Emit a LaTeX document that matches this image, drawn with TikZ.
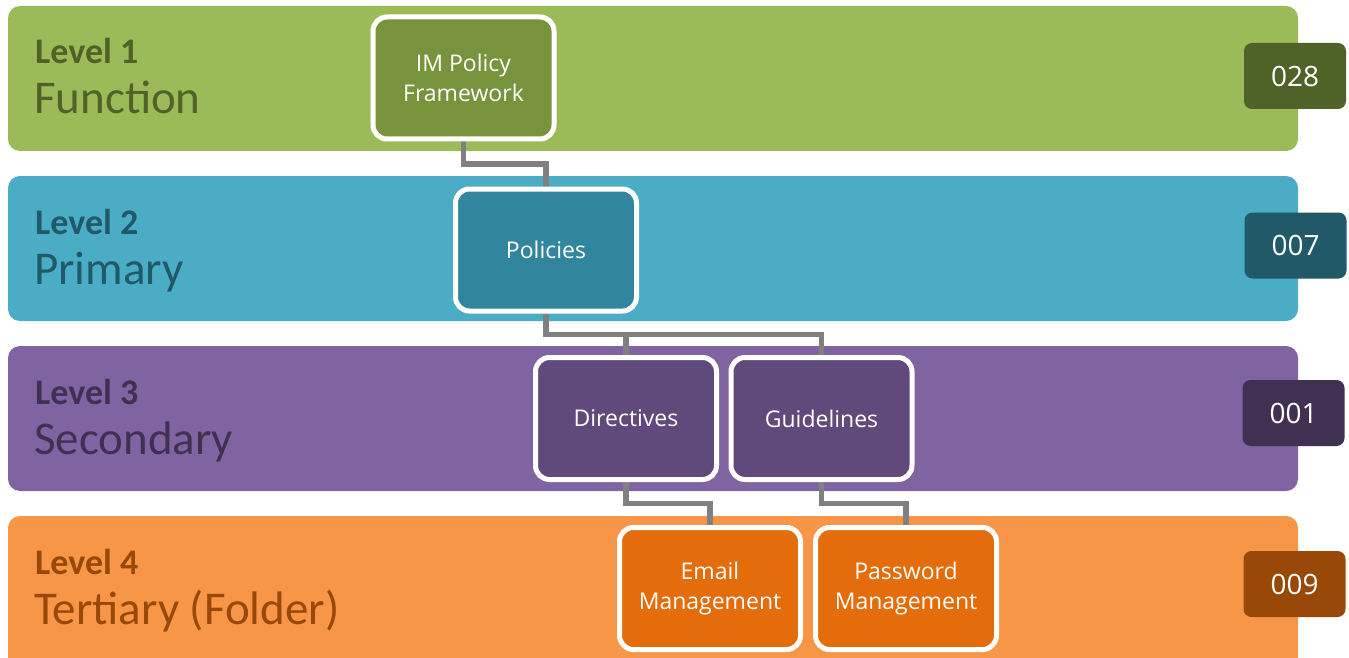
\documentclass[tikz,border=0pt]{standalone}
\usepackage{fontspec}
\setmainfont{Carlito}
\newfontfamily\boxfont{Open Sans}
\usetikzlibrary{calc}

% level colours: band, inner box, dark accent
\definecolor{gBand}{HTML}{9BBB59}\definecolor{gBox}{HTML}{77933C}\definecolor{gDark}{HTML}{4F6228}
\definecolor{bBand}{HTML}{4BACC6}\definecolor{bBox}{HTML}{31859C}\definecolor{bDark}{HTML}{215968}
\definecolor{pBand}{HTML}{8064A2}\definecolor{pBox}{HTML}{604A7B}\definecolor{pDark}{HTML}{403152}
\definecolor{oBand}{HTML}{F79646}\definecolor{oBox}{HTML}{E46C0A}\definecolor{oDark}{HTML}{984807}
\definecolor{linkGray}{HTML}{808080}

\pgfdeclarelayer{bands}
\pgfdeclarelayer{links}
\pgfsetlayers{bands,links,main}

\tikzset{
  band/.style={rounded corners=12pt},
  itembox/.style={draw=white, line width=5pt, rounded corners=14pt,
    minimum width=181pt, minimum height=122pt, inner sep=0pt,
    align=center, text=white, font=\boxfont\fontsize{23}{30}\selectfont},
  codebox/.style={rounded corners=8pt, minimum width=102pt, minimum height=66pt,
    inner sep=0pt, text=white, font=\boxfont\fontsize{28}{30}\selectfont},
  levelname/.style={anchor=base west, inner sep=0pt, font=\bfseries\fontsize{36}{40}\selectfont},
  leveltype/.style={anchor=base west, inner sep=0pt, font=\fontsize{47}{50}\selectfont},
  link/.style={draw=linkGray, line width=5.5pt}
}

\begin{document}
\begin{tikzpicture}[x=1pt, y=-1pt]
\useasboundingbox (0,0) rectangle (1349,658);

% horizontal level bands
\begin{pgfonlayer}{bands}
  \fill[band, gBand] (8,6)   rectangle (1298,151);
  \fill[band, bBand] (8,176) rectangle (1298,321);
  \fill[band, pBand] (8,346) rectangle (1298,491);
  \fill[band, oBand] (8,516) rectangle (1298,672);
\end{pgfonlayer}

% level captions
\node[levelname, text=gDark] (l1) at (35,64)  {Level 1};
\node[leveltype, text=gDark] (t1) at (34,114) {Function};
\node[levelname, text=bDark] (l2) at (35,234) {Level 2};
\node[leveltype, text=bDark] (t2) at (34,284) {Primary};
\node[levelname, text=pDark] (l3) at (35,404) {Level 3};
\node[leveltype, text=pDark] (t3) at (34,454) {Secondary};
\node[levelname, text=oDark] (l4) at (35,574) {Level 4};
\node[leveltype, text=oDark] (t4) at (34,624) {Tertiary (Folder)};

% hierarchy boxes
\node[itembox, fill=gBox] (im)  at (463.5,78)  {IM Policy\\Framework};
\node[itembox, fill=bBox] (pol) at (546,250)   {Policies};
\node[itembox, fill=pBox] (dir) at (626,418.5) {Directives};
\node[itembox, fill=pBox] (gui) at (821.5,418.5) {Guidelines};
\node[itembox, fill=oBox] (eml) at (710,588.5) {Email\\Management};
\node[itembox, fill=oBox] (pwd) at (906,588.5) {Password\\Management};

% code tags
\node[codebox, fill=gDark] (c1) at (1295,76)    {028};
\node[codebox, fill=bDark] (c2) at (1295.5,245.5) {007};
\node[codebox, fill=pDark] (c3) at (1293.5,413) {001};
\node[codebox, fill=oDark] (c4) at (1294.5,584) {009};

% elbow connectors
\begin{pgfonlayer}{links}
  \draw[link] (im.south)  |- ($(im.south)!0.5!(pol.north)$)  -| (pol.north);
  \draw[link] (pol.south) |- ($(pol.south)!0.5!(dir.north)$) -| (dir.north);
  \draw[link] (pol.south) |- ($(pol.south)!0.5!(gui.north)$) -| (gui.north);
  \draw[link] (dir.south) |- ($(dir.south)!0.5!(eml.north)$) -| (eml.north);
  \draw[link] (gui.south) |- ($(gui.south)!0.5!(pwd.north)$) -| (pwd.north);
\end{pgfonlayer}
\end{tikzpicture}
\end{document}
